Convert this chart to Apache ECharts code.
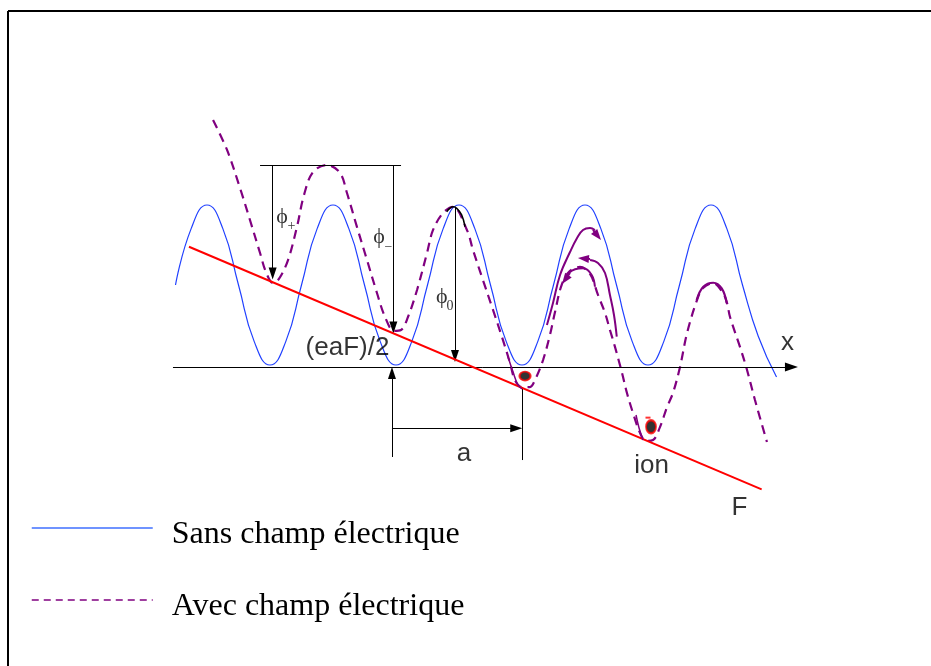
<!DOCTYPE html>
<html>
<head>
<meta charset="utf-8">
<script src="https://cdn.jsdelivr.net/npm/echarts@6/dist/echarts.min.js"></script>
<style>
  html, body { margin: 0; padding: 0; background: #fff; }
  #c { width: 931px; height: 666px; }
</style>
</head>
<body>
<div id="c"></div>
<script>
// Position x in lattice periods (a), energy in units of the barrier height phi0.

// Periodic potential without field
const sansChamp = [
  [-1.75, 0.5], [-1.625, 0.854], [-1.5, 1], [-1.375, 0.854], [-1.25, 0.5], [-1.125, 0.146],
  [-1, 0], [-0.875, 0.146], [-0.75, 0.5], [-0.625, 0.854], [-0.5, 1], [-0.375, 0.854],
  [-0.25, 0.5], [-0.125, 0.146], [0, 0], [0.125, 0.146], [0.25, 0.5], [0.375, 0.854],
  [0.5, 1], [0.625, 0.854], [0.75, 0.5], [0.875, 0.146], [1, 0], [1.125, 0.146],
  [1.25, 0.5], [1.375, 0.854], [1.5, 1], [1.625, 0.854], [1.75, 0.5], [1.875, 0.146],
  [2, 0], [2.125, 0.146], [2.25, 0.5], [2.375, 0.854], [2.5, 1], [2.625, 0.854],
  [2.75, 0.5], [2.875, 0.18], [3.02, -0.075]
];

// Tilted potential with the applied field
const avecChamp = [
  [-1.452, 1.531], [-1.341, 1.344], [-1.238, 1.106], [-1.159, 0.906], [-1.079, 0.700],
  [-1.032, 0.581], [-0.976, 0.513], [-0.929, 0.538], [-0.857, 0.656], [-0.786, 0.863],
  [-0.730, 1.063], [-0.659, 1.206], [-0.548, 1.250], [-0.444, 1.200], [-0.389, 1.075],
  [-0.310, 0.863], [-0.230, 0.656], [-0.151, 0.450], [-0.087, 0.300], [-0.016, 0.213],
  [0.040, 0.219], [0.095, 0.300], [0.167, 0.469], [0.246, 0.700], [0.294, 0.844],
  [0.373, 0.950], [0.452, 0.988], [0.563, 0.844], [0.611, 0.719], [0.690, 0.531],
  [0.770, 0.344], [0.841, 0.175], [0.905, 0.013], [0.944, -0.094], [1.000, -0.138],
  [1.063, -0.138], [1.103, -0.094], [1.167, 0.031], [1.222, 0.188], [1.262, 0.331],
  [1.317, 0.506], [1.381, 0.588], [1.460, 0.613], [1.540, 0.569], [1.603, 0.438],
  [1.659, 0.325], [1.698, 0.219], [1.738, 0.113], [1.794, -0.050], [1.833, -0.175],
  [1.881, -0.300], [1.937, -0.425], [1.984, -0.475], [2.040, -0.469], [2.095, -0.388],
  [2.151, -0.263], [2.198, -0.175], [2.254, -0.013], [2.310, 0.200], [2.389, 0.406],
  [2.437, 0.481], [2.516, 0.513], [2.595, 0.450], [2.627, 0.388], [2.651, 0.300],
  [2.730, 0.113], [2.786, -0.031], [2.849, -0.219], [2.944, -0.481]
];

// Field line eaF x
const droiteF = [[-1.643, 0.739], [2.902, -0.777]];

// Ion trajectories (solid purple pieces)
const trajetA = [[1.198, 0.25], [1.246, 0.3875], [1.302, 0.5625], [1.381, 0.706], [1.437, 0.794], [1.484, 0.844], [1.540, 0.856], [1.579, 0.844]];
const trajetB = [[1.752, 0.177], [1.730, 0.3125], [1.698, 0.4375], [1.659, 0.575], [1.603, 0.6375], [1.540, 0.656]];
const trajetC = [[1.579, 0.489], [1.553, 0.5625], [1.487, 0.604], [1.421, 0.598], [1.368, 0.573]];
const sommetD = [[2.386, 0.406], [2.439, 0.489], [2.518, 0.514], [2.585, 0.479], [2.625, 0.386]];
const fondPuits1 = [[0.889, 0.05], [0.929, -0.044], [0.968, -0.125], [1.0, -0.15]];
const fondPuits2 = [[1.905, -0.3125], [1.929, -0.394], [1.960, -0.469]];

// Arrowheads on the trajectories: [from, tip]
const flechesTrajets = [
  [[1.563, 0.844], [1.627, 0.781]],
  [[1.540, 0.6625], [1.444, 0.669]],
  [[1.381, 0.575], [1.317, 0.506]]
];

// Black construction lines
const axeX = [[-1.770, -0.0125], [3.190, -0.0125]];
const niveauHaut = [[-1.079, 1.25], [0.040, 1.25]];
const flechePlus = [[-0.979, 1.25], [-0.979, 0.534]];
const flecheMoins = [[-0.021, 1.25], [-0.021, 0.197]];
const flecheZero = [[0.468, 0.989], [0.468, 0.019]];
const flecheEaF = [[-0.032, -0.575], [-0.032, -0.0125]];
const flecheA = [[-0.032, -0.396], [1.002, -0.396]];
const repereA = [[1.002, -0.1375], [1.002, -0.594]];
const coiffeZero = [[0.402, 0.958], [0.429, 0.981], [0.455, 0.989], [0.482, 0.979], [0.521, 0.938], [0.548, 0.864]];

// Charges sitting in the wells
const charges = [[1.024, -0.069], [2.024, -0.386]];
const signeMoins = [[2.0, -0.329]];

// Text labels: [text, x, y]
const etiquettesGrecques = [['ϕ', -0.905, 0.925], ['ϕ', -0.135, 0.800], ['ϕ', 0.363, 0.425]];
const indices = [['+', -0.829, 0.866], ['−', -0.060, 0.734], ['0', 0.429, 0.369]];
const etiquettes = [['(eaF)/2', -0.385, 0.110], ['a', 0.540, -0.5575], ['ion', 2.029, -0.631], ['F', 2.726, -0.891], ['x', 3.107, 0.140]];

const SERIF = "'Liberation Serif', 'Times New Roman', serif";
const PHI_FONT = "'Liberation Serif', 'DejaVu Serif', serif";
const SANS = "'Liberation Sans', Arial, sans-serif";
const VIOLET = '#800080';
const BLEU = '#2040ff';

const GRID = { left: 18, top: 45, width: 882, height: 608 };
const X_RANGE = [-3, 4];
const Y_RANGE = [-1.8, 2];
const pxPerX = GRID.width / (X_RANGE[1] - X_RANGE[0]);
const pxPerY = GRID.height / (Y_RANGE[1] - Y_RANGE[0]);

// A markLine with a triangle head whose tip lands on `tip`
function fleche(from, tip, size) {
  const dx = (tip[0] - from[0]) * pxPerX;
  const dy = (tip[1] - from[1]) * pxPerY;
  const len = Math.hypot(dx, dy);
  const back = size[1] / 2;
  const end = [tip[0] - dx / len * back / pxPerX, tip[1] - dy / len * back / pxPerY];
  return [{ coord: from, symbol: 'none' }, { coord: end, symbol: 'triangle', symbolSize: size }];
}
function trait(pair) {
  return [{ coord: pair[0], symbol: 'none' }, { coord: pair[1], symbol: 'none' }];
}

function courbe(name, data, color, width, type, smooth, z) {
  return {
    name: name, type: 'line', data: data, smooth: smooth, symbol: 'none',
    silent: true, z: z,
    lineStyle: { color: color, width: width, type: type },
    itemStyle: { color: color }
  };
}

function texteSerie(list, family, size, name) {
  return {
    name: name, type: 'scatter', silent: true, z: 10,
    symbolSize: 1, itemStyle: { color: 'rgba(0,0,0,0)' },
    data: list.map(e => ({ value: [e[1], e[2]], label: { formatter: e[0] } })),
    label: { show: true, position: 'inside', color: '#000', fontFamily: family, fontSize: size }
  };
}

function legende(name, top, lineStyle) {
  return {
    data: [name], left: 31, top: top, padding: 0,
    itemWidth: 121, itemHeight: 80, selectedMode: false,
    itemStyle: { opacity: 0 },
    lineStyle: lineStyle,
    formatter: '{t|{name}}',
    textStyle: {
      fontFamily: SERIF, fontSize: 32, color: '#000', padding: [0, 0, 0, 14],
      rich: { t: { fontFamily: SERIF, fontSize: 32, color: '#000', padding: [14, 0, 0, 0] } }
    }
  };
}

const chart = echarts.init(document.getElementById('c'), null, { renderer: 'canvas' });

chart.setOption({
  animation: false,
  backgroundColor: '#fff',
  grid: GRID,
  xAxis: { type: 'value', min: X_RANGE[0], max: X_RANGE[1], show: false },
  yAxis: { type: 'value', min: Y_RANGE[0], max: Y_RANGE[1], show: false },
  legend: [
    legende('Sans champ électrique', 496, { color: '#3f6fff', width: 1.5, type: 'solid' }),
    legende('Avec champ électrique', 568, { color: VIOLET, width: 1.5, type: [7, 5] })
  ],
  graphic: [
    { type: 'line', silent: true, shape: { x1: 8, y1: 11, x2: 931, y2: 11 }, style: { stroke: '#000', lineWidth: 2 } },
    { type: 'line', silent: true, shape: { x1: 8, y1: 11, x2: 8, y2: 666 }, style: { stroke: '#000', lineWidth: 2 } }
  ],
  series: [
    courbe('Sans champ électrique', sansChamp, BLEU, 1.2, 'solid', 0.5, 3),
    courbe('Avec champ électrique', avecChamp, VIOLET, 2.2, [9, 6], 0.35, 4),
    courbe('Champ F', droiteF, '#ff0000', 2, 'solid', false, 5),
    Object.assign(courbe('Trajet A', trajetA, VIOLET, 2, 'solid', 0.4, 6), {
      markLine: {
        silent: true, animation: false, symbol: ['none', 'none'],
        label: { show: false }, emphasis: { disabled: true },
        lineStyle: { color: VIOLET, width: 2, type: 'solid' },
        itemStyle: { color: VIOLET },
        data: flechesTrajets.map(f => fleche(f[0], f[1], [8, 11]))
      }
    }),
    courbe('Trajet B', trajetB, VIOLET, 2, 'solid', 0.4, 6),
    courbe('Trajet C', trajetC, VIOLET, 2, 'solid', 0.4, 6),
    courbe('Sommet D', sommetD, VIOLET, 2.2, 'solid', 0.4, 6),
    courbe('Puits 1', fondPuits1, VIOLET, 1.5, 'solid', 0.4, 6),
    courbe('Puits 2', fondPuits2, VIOLET, 1.5, 'solid', 0.4, 6),
    courbe('Coiffe phi0', coiffeZero, '#000', 1.5, 'solid', 0.4, 7),
    {
      name: 'Repères', type: 'line', data: [], silent: true, z: 7,
      markLine: {
        silent: true, animation: false, symbol: ['none', 'none'],
        label: { show: false }, emphasis: { disabled: true },
        lineStyle: { color: '#000', width: 1, type: 'solid' },
        itemStyle: { color: '#000' },
        data: [
          fleche(axeX[0], axeX[1], [9, 13]),
          trait(niveauHaut),
          fleche(flechePlus[0], flechePlus[1], [8, 12]),
          fleche(flecheMoins[0], flecheMoins[1], [8, 12]),
          fleche(flecheZero[0], flecheZero[1], [8, 12]),
          fleche(flecheEaF[0], flecheEaF[1], [8, 12]),
          fleche(flecheA[0], flecheA[1], [8, 12]),
          trait(repereA)
        ]
      }
    },
    {
      name: 'Charges', type: 'scatter', silent: true, z: 8,
      data: [
        { value: charges[0], symbolSize: [11, 9] },
        { value: charges[1], symbolSize: [10, 13] }
      ],
      symbol: 'circle',
      itemStyle: { color: '#000', borderColor: '#ff0000', borderWidth: 2 }
    },
    {
      name: 'Signe', type: 'scatter', silent: true, z: 8,
      data: signeMoins, symbol: 'rect', symbolSize: [5, 2],
      itemStyle: { color: '#ff0000' }
    },
    texteSerie(etiquettesGrecques, PHI_FONT, 22, 'Phi'),
    texteSerie(indices, SERIF, 14, 'Indices'),
    texteSerie(etiquettes, SANS, 26, 'Textes')
  ]
});
</script>
</body>
</html>
